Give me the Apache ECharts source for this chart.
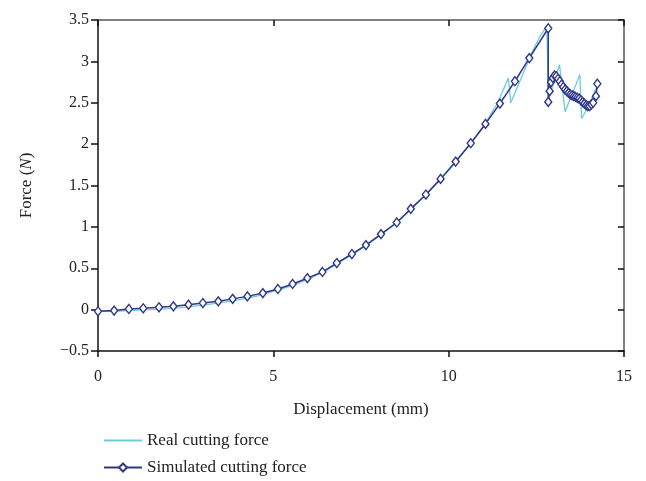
<!DOCTYPE html>
<html>
<head>
<meta charset="utf-8">
<script src="https://cdn.jsdelivr.net/npm/echarts@6/dist/echarts.min.js"></script>
<style>
  html, body { margin: 0; padding: 0; background: #fff; }
  #main { width: 646px; height: 481px; }
</style>
</head>
<body>
<div id="main"></div>
<script>
  // real (measured) cutting force
  var realX = [0, 0.5, 1, 1.5, 2, 2.5, 3, 3.5, 4, 4.5, 5, 5.5, 6, 6.5, 7, 7.5, 8, 8.5, 9, 9.5, 10, 10.5, 11, 11.4,
    11.7, 11.77, 12.1, 12.4, 12.6, 12.8, 12.84, 12.9, 13.16, 13.32, 13.74, 13.79, 13.97, 14.22];
  var realY = [-0.02, -0.02, -0.01, 0.0, 0.012, 0.03, 0.055, 0.085, 0.118, 0.16, 0.22, 0.285, 0.37, 0.47, 0.6, 0.73, 0.88, 1.04, 1.24, 1.45, 1.68, 1.94, 2.22, 2.5,
    2.8, 2.5, 2.83, 3.13, 3.3, 3.43, 2.6, 2.62, 2.96, 2.39, 2.84, 2.31, 2.44, 2.69];

  // simulated cutting force
  var simX = [0, 0.46, 0.88, 1.29, 1.74, 2.15, 2.58, 2.99, 3.43, 3.84, 4.26, 4.7, 5.13, 5.55, 5.97, 6.4, 6.81, 7.24, 7.64, 8.07,
    8.52, 8.92, 9.35, 9.77, 10.2, 10.63, 11.05, 11.46, 11.89, 12.3, 12.84, 12.84,
    12.88, 12.92, 12.97, 13.02, 13.07, 13.12, 13.17, 13.22, 13.27, 13.32, 13.37, 13.42, 13.47, 13.52, 13.57, 13.62,
    13.67, 13.72, 13.77, 13.82, 13.87, 13.92, 13.97, 14.02, 14.07, 14.12, 14.2, 14.24];
  var simY = [-0.02, -0.012, 0.008, 0.016, 0.028, 0.04, 0.06, 0.08, 0.1, 0.13, 0.16, 0.2, 0.25, 0.31, 0.38, 0.455, 0.563, 0.672, 0.78, 0.913,
    1.053, 1.218, 1.391, 1.58, 1.789, 2.011, 2.244, 2.49, 2.76, 3.04, 3.4, 2.51,
    2.64, 2.75, 2.8, 2.83, 2.82, 2.79, 2.76, 2.72, 2.69, 2.66, 2.64, 2.62, 2.6, 2.59, 2.58, 2.57,
    2.56, 2.55, 2.53, 2.51, 2.49, 2.47, 2.46, 2.46, 2.48, 2.5, 2.58, 2.73];

  function pairs(xs, ys) {
    var out = [];
    for (var i = 0; i < xs.length; i++) out.push([xs[i], ys[i]]);
    return out;
  }

  var serif = 'Liberation Serif';
  var minus = function (v) { return String(v).replace('-', '\u2212'); };
  var legendText = { fontFamily: serif, fontSize: 17, color: '#222' };

  var chart = echarts.init(document.getElementById('main'));
  chart.setOption({
    animation: false,
    textStyle: { fontFamily: serif },
    grid: { left: 98, right: 22, top: 20, bottom: 130 },
    legend: [
      {
        left: 98, top: 427, itemWidth: 38, itemHeight: 10,
        textStyle: legendText,
        data: [{ name: 'Real cutting force', itemStyle: { opacity: 0 } }]
      },
      {
        left: 98, top: 454, itemWidth: 38, itemHeight: 10,
        textStyle: legendText,
        data: ['Simulated cutting force']
      }
    ],
    xAxis: [
      {
        type: 'value', min: 0, max: 15, interval: 5,
        name: 'Displacement (mm)', nameLocation: 'middle', nameGap: 50,
        nameTextStyle: { fontFamily: serif, fontSize: 17, color: '#222' },
        axisLine: { onZero: false, lineStyle: { color: '#111', width: 1.5 } },
        axisTick: { inside: false, length: 6, lineStyle: { color: '#111', width: 1.5 } },
        axisLabel: { fontFamily: serif, fontSize: 16, color: '#222', margin: 18 },
        splitLine: { show: false }
      },
      {
        type: 'value', min: 0, max: 15, interval: 5, position: 'top',
        axisLine: { show: true, onZero: false, lineStyle: { color: '#555', width: 1.5 } },
        axisTick: { inside: true, length: 6, lineStyle: { color: '#111', width: 1.5 } },
        axisLabel: { show: false },
        splitLine: { show: false }
      }
    ],
    yAxis: [
      {
        type: 'value', min: -0.5, max: 3.5, interval: 0.5,
        name: '{a|Force (}{b|N}{a|)}', nameLocation: 'middle', nameGap: 63, nameRotate: 90,
        nameTextStyle: {
          rich: {
            a: { fontFamily: serif, fontSize: 17, color: '#222' },
            b: { fontFamily: serif, fontSize: 17, color: '#222', fontStyle: 'italic' }
          }
        },
        axisLine: { show: true, onZero: false, lineStyle: { color: '#111', width: 1.5 } },
        axisTick: { inside: false, length: 7, lineStyle: { color: '#111', width: 1.5 } },
        axisLabel: { fontFamily: serif, fontSize: 16, color: '#222', margin: 9, formatter: minus },
        splitLine: { show: false }
      },
      {
        type: 'value', min: -0.5, max: 3.5, interval: 0.5, position: 'right',
        axisLine: { show: true, onZero: false, lineStyle: { color: '#555', width: 1.5 } },
        axisTick: { show: true, inside: true, length: 6, lineStyle: { color: '#111', width: 1.5 } },
        axisLabel: { show: false },
        splitLine: { show: false }
      }
    ],
    series: [
      {
        name: 'Real cutting force',
        type: 'line',
        data: pairs(realX, realY),
        showSymbol: false,
        symbol: 'none',
        lineStyle: { color: '#6ccbdc', width: 1.3 },
        itemStyle: { color: '#6ccbdc' },
        z: 2
      },
      {
        name: 'Simulated cutting force',
        type: 'line',
        data: pairs(simX, simY),
        symbol: 'diamond',
        symbolSize: [7, 9],
        lineStyle: { color: '#2e3788', width: 1.5 },
        itemStyle: { color: '#fff', borderColor: '#2e3788', borderWidth: 1.4 },
        z: 3
      }
    ]
  });
</script>
</body>
</html>
